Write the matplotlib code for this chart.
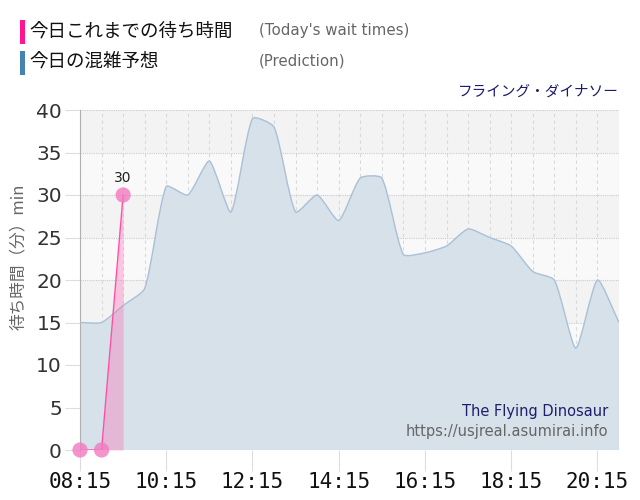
import numpy as np
import matplotlib.pyplot as plt
from matplotlib.path import Path
from matplotlib.patches import PathPatch, Rectangle

plt.rcParams["font.family"] = ["DejaVu Sans", "Noto Sans CJK JP"]

# prediction, every 30 min from 08:15
pred_start = 8 * 60 + 15
pred_vals = [15, 15, 17, 19, 31, 30, 34, 28, 39, 38, 28, 30,
             27, 32, 32, 23, 23.2, 24, 26, 25, 24, 21, 20, 12, 20, 15]

# today's actual waits
act_times = ["08:15", "08:45", "09:15"]
act_vals = [0, 0, 30]

tick_labels = ["08:15", "10:15", "12:15", "14:15", "16:15", "18:15", "20:15"]


def to_min(s):
    h, m = s.split(":")
    return int(h) * 60 + int(m)


pred_x = np.array([pred_start + 30 * i for i in range(len(pred_vals))], dtype=float)
pred_y = np.array(pred_vals, dtype=float)
act_x = np.array([to_min(t) for t in act_times], dtype=float)
act_y = np.array(act_vals, dtype=float)

xmin, xmax = pred_x[0], pred_x[-1]
ymin, ymax = 0, 40


def smooth_path(xs, ys, tension=0.2, sx=86 / 120, sy=8.5):
    # cardinal-style bezier through the points (like chart.js)
    verts = [(xs[0], ys[0])]
    codes = [Path.MOVETO]
    n = len(xs)
    cps = []
    for i in range(n):
        p0 = (xs[max(i - 1, 0)], ys[max(i - 1, 0)])
        p1 = (xs[i], ys[i])
        p2 = (xs[min(i + 1, n - 1)], ys[min(i + 1, n - 1)])
        d01 = np.hypot((p1[0] - p0[0]) * sx, (p1[1] - p0[1]) * sy)
        d12 = np.hypot((p2[0] - p1[0]) * sx, (p2[1] - p1[1]) * sy)
        tot = d01 + d12 if d01 + d12 > 0 else 1
        fa = tension * d01 / tot
        fb = tension * d12 / tot
        prev = (p1[0] - fa * (p2[0] - p0[0]), p1[1] - fa * (p2[1] - p0[1]))
        nxt = (p1[0] + fb * (p2[0] - p0[0]), p1[1] + fb * (p2[1] - p0[1]))
        cps.append((prev, nxt))
    for i in range(1, n):
        c1 = cps[i - 1][1]
        c2 = cps[i][0]
        c2 = (c2[0], min(max(c2[1], ymin), ymax))
        c1 = (c1[0], min(max(c1[1], ymin), ymax))
        verts += [c1, c2, (xs[i], ys[i])]
        codes += [Path.CURVE4] * 3
    return verts, codes


fig = plt.figure(figsize=(6.4, 5.0), dpi=100)
ax = fig.add_axes([80 / 640, 50 / 500, 539 / 640, 340 / 500])

# alternating bands
for k, lo in enumerate(range(35, -1, -5)):
    ax.add_patch(Rectangle((xmin, lo), xmax - xmin, 5,
                           facecolor="#f3f3f3" if k % 2 == 0 else "#f9f9f9",
                           edgecolor="none", zorder=0))

# grid
for yv in range(0, 41, 5):
    ax.axhline(yv, color="#cccccc", lw=0.8, ls=(0, (1, 1)), zorder=1)
for xv in np.arange(xmin, xmax + 1, 30):
    ax.axvline(xv, color="#d9d9d9", lw=0.8, ls=(0, (3, 3)), zorder=1)

# prediction
verts, codes = smooth_path(pred_x, pred_y)
line_path = Path(verts, codes)
fill_verts = verts + [(pred_x[-1], 0), (pred_x[0], 0), (pred_x[0], pred_y[0])]
fill_codes = codes + [Path.LINETO, Path.LINETO, Path.CLOSEPOLY]
ax.add_patch(PathPatch(Path(fill_verts, fill_codes), facecolor="#d6e1ea",
                       edgecolor="none", zorder=2))
ax.add_patch(PathPatch(line_path, facecolor="none", edgecolor="#a9c0d6",
                       lw=1.0, zorder=3))

# actual
ax.fill_between(act_x, 0, act_y, color="#ff69b4", alpha=0.35, lw=0, zorder=4)
ax.plot(act_x, act_y, color="#ff4fa8", lw=1.0, zorder=5)
ax.scatter(act_x, act_y, s=120, color="#f27ac0", alpha=0.8, edgecolors="none",
           zorder=6, clip_on=False)
ax.text(act_x[-1], act_y[-1] + 2.0, f"{int(act_y[-1])}", ha="center",
        va="center", fontsize=10, color="#222222")

ax.set_xlim(xmin, xmax)
ax.set_ylim(ymin, ymax)

ax.set_yticks(range(0, 41, 5))
ax.set_yticklabels([str(v) for v in range(0, 41, 5)], fontsize=14.5, color="#333333")
ax.tick_params(axis="y", length=11, color="#dddddd", pad=2)

ax.set_xticks([to_min(t) for t in tick_labels])
ax.set_xticklabels(tick_labels, fontsize=15, family="DejaVu Sans Mono", color="#111111")
ax.tick_params(axis="x", length=15, color="#dddddd", pad=1)

for s in ["top", "right", "bottom"]:
    ax.spines[s].set_visible(False)
ax.spines["left"].set_color("#b0b0b0")
ax.spines["left"].set_linewidth(0.8)

fig.text(18 / 640, 1 - 257 / 500, "待ち時間（分）min", rotation=90,
         ha="center", va="center", fontsize=12, color="#666666",
         family=["Noto Sans CJK JP", "DejaVu Sans"])

# legend
fig.patches.append(Rectangle((20 / 640, 1 - 44 / 500), 5 / 640, 24 / 500,
                             transform=fig.transFigure, facecolor="#ff1493",
                             edgecolor="none"))
fig.patches.append(Rectangle((20 / 640, 1 - 75 / 500), 5 / 640, 24 / 500,
                             transform=fig.transFigure, facecolor="#4682b4",
                             edgecolor="none"))
fig.text(29 / 640, 1 - 32 / 500, "今日これまでの待ち時間", fontsize=13.3,
         va="center", ha="left", color="#111111", family=["Noto Sans CJK JP"])
fig.text(29 / 640, 1 - 62 / 500, "今日の混雑予想", fontsize=13.3,
         va="center", ha="left", color="#111111", family=["Noto Sans CJK JP"])
fig.text(259 / 640, 1 - 31 / 500, "(Today's wait times)", fontsize=10.8,
         va="center", ha="left", color="#666666")
fig.text(259 / 640, 1 - 61 / 500, "(Prediction)", fontsize=10.8,
         va="center", ha="left", color="#666666")

fig.text(619 / 640, 1 - 92 / 500, "フライング・ダイナソー", fontsize=10.5,
         va="center", ha="right", color="#1a1a6e", family=["Noto Sans CJK JP"])

ax.text(0.98, 0.113, "The Flying Dinosaur", transform=ax.transAxes,
        ha="right", va="center", fontsize=10.5, color="#1f1f6b", zorder=7)
ax.text(0.98, 0.055, "https://usjreal.asumirai.info", transform=ax.transAxes,
        ha="right", va="center", fontsize=10.5, color="#666666", zorder=7)

fig.savefig("out.png", dpi=100)
